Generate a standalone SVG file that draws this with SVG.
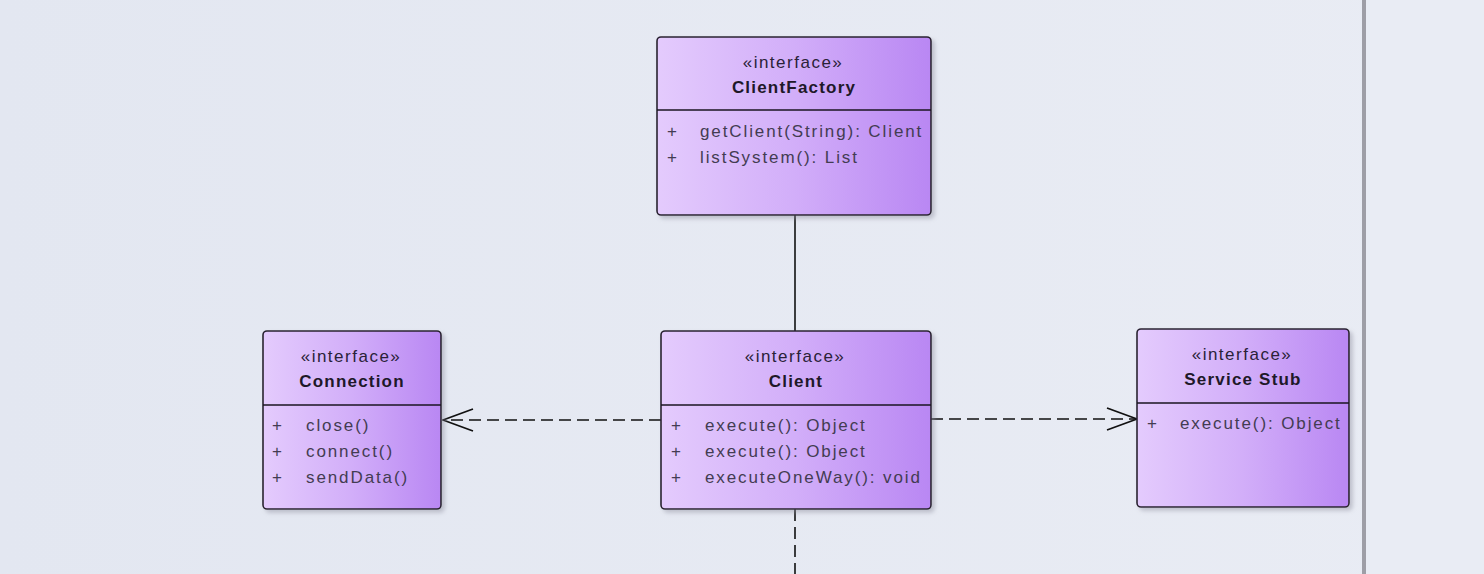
<svg xmlns="http://www.w3.org/2000/svg" width="1484" height="574" viewBox="0 0 1484 574">
<defs>
<linearGradient id="bg" x1="0" y1="0" x2="1" y2="0">
<stop offset="0" stop-color="#e3e7f1"/>
<stop offset="1" stop-color="#e9ecf4"/>
</linearGradient>
<linearGradient id="fill" x1="0" y1="0" x2="1" y2="0">
<stop offset="0" stop-color="#e4cbfd"/>
<stop offset="0.5" stop-color="#d2aef9"/>
<stop offset="1" stop-color="#b987f3"/>
</linearGradient>
<filter id="sh" x="-10%" y="-10%" width="130%" height="130%">
<feDropShadow dx="3" dy="3" stdDeviation="2" flood-color="#8a8a99" flood-opacity="0.45"/>
</filter>
<marker id="open" viewBox="0 0 32 24" refX="31" refY="12" markerWidth="32" markerHeight="24" markerUnits="userSpaceOnUse" orient="auto">
<path d="M1,1 L31,12 L1,23" fill="none" stroke="#111" stroke-width="1.8"/>
</marker>
<style>
.box{fill:url(#fill);stroke:#2a2230;stroke-width:1.6;filter:url(#sh)}
.div{stroke:#1a1420;stroke-width:1.6}
text{font-family:"Liberation Sans",Arial,sans-serif;font-size:17px;fill:#433c52}
.st{text-anchor:middle;letter-spacing:1.5px;fill:#2a2238}
.nm{text-anchor:middle;font-weight:bold;letter-spacing:1.2px;fill:#201828}
.op{letter-spacing:1.9px}
.conn{fill:none;stroke:#111;stroke-width:1.6}
.dash{stroke-dasharray:12 6}
</style>
</defs>
<rect x="0" y="0" width="1484" height="574" fill="url(#bg)"/>
<rect x="1366" y="0" width="118" height="574" fill="#e9ecf4"/>
<rect x="1362" y="0" width="4" height="574" fill="#9e9ea6"/>

<g id="connectors">
<line class="conn" x1="795" y1="215" x2="795" y2="331"/>
<line class="conn dash" x1="661" y1="420" x2="443" y2="420" marker-end="url(#open)"/>
<line class="conn dash" x1="931" y1="419" x2="1137" y2="419" marker-end="url(#open)"/>
<line class="conn dash" x1="795" y1="509" x2="795" y2="574"/>
</g>

<g id="ClientFactory">
<rect class="box" x="657" y="37" width="274" height="178" rx="4"/>
<line class="div" x1="657" y1="110" x2="931" y2="110"/>
<text class="st" x="793" y="68">«interface»</text>
<text class="nm" x="794" y="93">ClientFactory</text>
<text x="667" y="137">+</text>
<text class="op" x="700" y="137">getClient(String): Client</text>
<text x="667" y="163">+</text>
<text class="op" x="700" y="163">listSystem(): List</text>
</g>

<g id="Connection">
<rect class="box" x="263" y="331" width="178" height="178" rx="4"/>
<line class="div" x1="263" y1="405" x2="441" y2="405"/>
<text class="st" x="351" y="362">«interface»</text>
<text class="nm" x="352" y="387">Connection</text>
<text x="272" y="431">+</text>
<text class="op" x="306" y="431">close()</text>
<text x="272" y="457">+</text>
<text class="op" x="306" y="457">connect()</text>
<text x="272" y="483">+</text>
<text class="op" x="306" y="483">sendData()</text>
</g>

<g id="Client">
<rect class="box" x="661" y="331" width="270" height="178" rx="4"/>
<line class="div" x1="661" y1="405" x2="931" y2="405"/>
<text class="st" x="795" y="362">«interface»</text>
<text class="nm" x="796" y="387">Client</text>
<text x="671" y="431">+</text>
<text class="op" x="705" y="431">execute(): Object</text>
<text x="671" y="457">+</text>
<text class="op" x="705" y="457">execute(): Object</text>
<text x="671" y="483">+</text>
<text class="op" x="705" y="483">executeOneWay(): void</text>
</g>

<g id="ServiceStub">
<rect class="box" x="1137" y="329" width="212" height="178" rx="4"/>
<line class="div" x1="1137" y1="403" x2="1349" y2="403"/>
<text class="st" x="1242" y="360">«interface»</text>
<text class="nm" x="1243" y="385">Service Stub</text>
<text x="1147" y="429">+</text>
<text class="op" x="1180" y="429">execute(): Object</text>
</g>
</svg>
